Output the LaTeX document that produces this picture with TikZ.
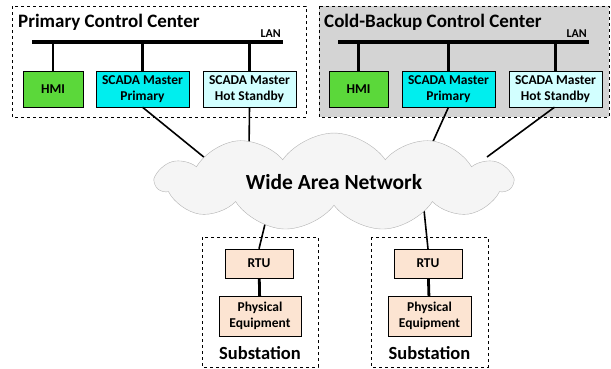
\documentclass[tikz,border=0pt]{standalone}
\usepackage{fontspec}
\setmainfont{Carlito}
\usetikzlibrary{shapes.symbols}
\definecolor{hmigreen}{HTML}{5BD83A}
\definecolor{scadacyan}{HTML}{00EEEE}
\definecolor{standbycyan}{HTML}{D2FFFF}
\definecolor{rtuorange}{HTML}{FCE4D2}
\definecolor{backupgray}{HTML}{D4D4D4}
\definecolor{cloudgray}{HTML}{F5F5F5}
\begin{document}
\begin{tikzpicture}[
  x=1pt,y=-1pt,
  every node/.style={font=\bfseries,inner sep=0pt,align=center},
  box/.style={draw,minimum width=93pt,minimum height=36pt,font=\bfseries\fontsize{13.5}{15.5}\selectfont},
  subbox/.style={draw,fill=rtuorange,minimum width=68pt,minimum height=29pt,font=\bfseries\fontsize{13.5}{16.5}\selectfont},
  center/.style={draw,dashed,thin},
  title/.style={anchor=base west,font=\bfseries\fontsize{19}{22}\selectfont},
  lanlabel/.style={anchor=base east,font=\bfseries\fontsize{12}{14}\selectfont},
  sublabel/.style={font=\bfseries\fontsize{18.5}{22}\selectfont},
  lan/.style={line width=3.5pt},
  drop/.style={line width=2.8pt},
  link/.style={line width=1.6pt}
  ]
  \useasboundingbox (0,0) rectangle (611,368);

  \draw[center] (12,6) rectangle (306,117);
  \draw[center,fill=backupgray] (319,6) rectangle (609,117);
  \draw[center] (202,237) rectangle (318,367);
  \draw[center] (371,237) rectangle (488,367);

  \node[title] (titleP) at (18,27) {Primary Control Center};
  \node[title] (titleB) at (324,27) {Cold-Backup Control Center};

  \coordinate (lanP1) at (32,42);
  \coordinate (lanP2) at (283,42);
  \coordinate (lanB1) at (338,42);
  \coordinate (lanB2) at (589,42);
  \draw[lan] (lanP1) -- (lanP2);
  \draw[lan] (lanB1) -- (lanB2);
  \node[lanlabel] (lanlabelP) at (281,37) {LAN};
  \node[lanlabel] (lanlabelB) at (587,37) {LAN};

  \node[box,fill=hmigreen,minimum width=60pt] (hmiP) at (53,89) {HMI};
  \node[box,fill=scadacyan] (priP) at (142.5,89) {SCADA Master\\Primary};
  \node[box,fill=standbycyan] (hotP) at (249.5,89) {SCADA Master\\Hot Standby};
  \node[box,fill=hmigreen,minimum width=59pt] (hmiB) at (358.5,89) {HMI};
  \node[box,fill=scadacyan] (priB) at (448.5,89) {SCADA Master\\Primary};
  \node[box,fill=standbycyan] (hotB) at (555.5,89) {SCADA Master\\Hot Standby};

  \draw[drop] (hmiP.north |- lanP1) -- (hmiP.north);
  \draw[drop] (priP.north |- lanP1) -- (priP.north);
  \draw[drop] (hotP.north |- lanP1) -- (hotP.north);
  \draw[drop] (hmiB.north |- lanB1) -- (hmiB.north);
  \draw[drop] (priB.north |- lanB1) -- (priB.north);
  \draw[drop] (hotB.north |- lanB1) -- (hotB.north);

  \node[subbox] (rtuL) at (259,263.5) {RTU};
  \node[subbox,minimum width=82pt,minimum height=40pt] (physL) at (260,316) {Physical\\Equipment};
  \node[sublabel] (subL) at (260,353) {Substation};
  \node[subbox] (rtuR) at (428,263.5) {RTU};
  \node[subbox,minimum width=83pt,minimum height=40pt] (physR) at (429.5,316) {Physical\\Equipment};
  \node[sublabel] (subR) at (429.5,353) {Substation};
  \draw[drop] (rtuL) -- (physL);
  \draw[drop] (rtuR) -- (physR);

  \coordinate (wanA) at (205,158);
  \coordinate (wanB) at (249,152);
  \coordinate (wanC) at (431,146);
  \coordinate (wanD) at (487,157);
  \coordinate (wanE) at (266,220);
  \coordinate (wanF) at (424,210);
  \draw[link] (priP.south) -- (wanA);
  \draw[link] (hotP.south) -- (wanB);
  \draw[link] (priB.south) -- (wanC);
  \draw[link] ([xshift=-1pt]hotB.south) -- (wanD);
  \draw[link] (wanE) -- (rtuL.north);
  \draw[link] (wanF) -- (rtuR.north);

  \node[cloud,draw=black!30,fill=cloudgray,cloud puffs=11,cloud puff arc=110,aspect=3.9,
    minimum width=356pt,minimum height=90pt,font=\bfseries\fontsize{21.5}{24}\selectfont] (wan) at (334,182) {Wide Area Network};
\end{tikzpicture}
\end{document}
